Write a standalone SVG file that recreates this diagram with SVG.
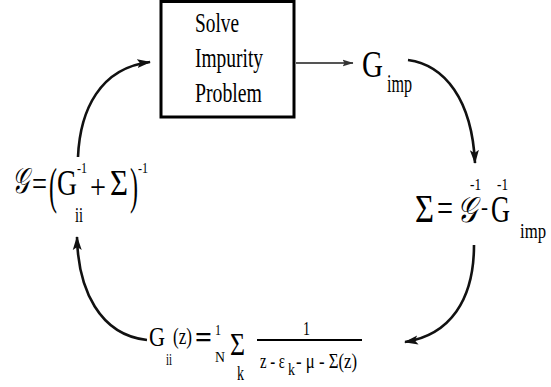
<svg xmlns="http://www.w3.org/2000/svg" width="551" height="387" viewBox="0 0 551 387">
<style>
text{font-family:"Liberation Serif","Times New Roman",serif;fill:#000}
.sc{font-style:italic}
.curve{fill:none;stroke:#111;stroke-width:2.6;marker-end:url(#ah)}
</style>
<defs>
<marker id="ah" viewBox="0 0 14 10" refX="13" refY="5" markerWidth="14" markerHeight="10" markerUnits="userSpaceOnUse" orient="auto">
<path d="M0,0.5 L14,5 L0,9.5 L3,5 Z" fill="#111"/>
</marker>
<marker id="ah2" viewBox="0 0 11 8" refX="10.5" refY="4" markerWidth="11" markerHeight="8" markerUnits="userSpaceOnUse" orient="auto">
<path d="M0,0.5 L11,4 L0,7.5 L2,4 Z" fill="#333"/>
</marker>
</defs>
<rect width="551" height="387" fill="#fff"/>
<g id="connectors">
<line x1="296" y1="63" x2="353" y2="63" stroke="#555" stroke-width="1.8" marker-end="url(#ah2)"/>
<path class="curve" d="M408,60 C445,65 472,100 475,163"/>
<path class="curve" d="M474,245 C474,300 450,335 405,342"/>
<path class="curve" d="M147,340 C100,335 78,290 77,237"/>
<path class="curve" d="M78,157 C80,110 100,68 150,62"/>
</g>
<g id="solver">
<rect x="161" y="1.5" width="133" height="115.5" fill="#fff" stroke="#000" stroke-width="3"/>
<text x="195" y="32" font-size="28" textLength="44" lengthAdjust="spacingAndGlyphs">Solve</text>
<text x="195" y="67" font-size="28" textLength="68" lengthAdjust="spacingAndGlyphs">Impurity</text>
<text x="195" y="102" font-size="28" textLength="67" lengthAdjust="spacingAndGlyphs">Problem</text>
</g>
<g id="gimp">
<text x="362" y="77" font-size="38" textLength="21" lengthAdjust="spacingAndGlyphs">G</text>
<text x="387" y="92" font-size="26" textLength="25" lengthAdjust="spacingAndGlyphs">imp</text>
</g>
<g id="sigma">
<text x="415" y="222" font-size="40" textLength="19" lengthAdjust="spacingAndGlyphs">Σ</text>
<text x="437" y="222" font-size="40" textLength="16" lengthAdjust="spacingAndGlyphs">=</text>
<text class="sc" x="457" y="222" font-size="36" textLength="20" lengthAdjust="spacingAndGlyphs">𝒢</text>
<text x="470" y="190" font-size="17" textLength="11" lengthAdjust="spacingAndGlyphs">-1</text>
<text x="481" y="215" font-size="24" textLength="7" lengthAdjust="spacingAndGlyphs">-</text>
<text x="491" y="222" font-size="38" textLength="19" lengthAdjust="spacingAndGlyphs">G</text>
<text x="497" y="190" font-size="17" textLength="11" lengthAdjust="spacingAndGlyphs">-1</text>
<text x="520" y="238" font-size="20" textLength="26" lengthAdjust="spacingAndGlyphs">imp</text>
</g>
<g id="gloc">
<text class="sc" x="12" y="193" font-size="36" textLength="17" lengthAdjust="spacingAndGlyphs">𝒢</text>
<text x="32" y="196" font-size="36" textLength="15" lengthAdjust="spacingAndGlyphs">=</text>
<text x="49" y="203" font-size="50" textLength="8" lengthAdjust="spacingAndGlyphs">(</text>
<text x="57" y="195" font-size="35" textLength="20" lengthAdjust="spacingAndGlyphs">G</text>
<text x="77" y="173" font-size="15" textLength="10" lengthAdjust="spacingAndGlyphs">-1</text>
<text x="75" y="222" font-size="20" textLength="8" lengthAdjust="spacingAndGlyphs">ii</text>
<text x="90" y="198" font-size="34" textLength="16" lengthAdjust="spacingAndGlyphs">+</text>
<text x="110" y="195" font-size="35" textLength="18" lengthAdjust="spacingAndGlyphs">Σ</text>
<text x="130" y="203" font-size="50" textLength="8" lengthAdjust="spacingAndGlyphs">)</text>
<text x="138" y="173" font-size="15" textLength="10" lengthAdjust="spacingAndGlyphs">-1</text>
</g>
<g id="gii">
<text x="149" y="346" font-size="28" textLength="16" lengthAdjust="spacingAndGlyphs">G</text>
<text x="166" y="365" font-size="16" textLength="6" lengthAdjust="spacingAndGlyphs">ii</text>
<text x="173" y="344" font-size="24" textLength="19" lengthAdjust="spacingAndGlyphs">(z)</text>
<text x="195" y="348" font-size="32" font-weight="bold" textLength="17" lengthAdjust="spacingAndGlyphs">=</text>
<text x="215" y="335" font-size="14" textLength="6" lengthAdjust="spacingAndGlyphs">1</text>
<text x="215" y="362" font-size="15" textLength="10" lengthAdjust="spacingAndGlyphs">N</text>
<text x="230" y="355" font-size="32" textLength="15" lengthAdjust="spacingAndGlyphs">Σ</text>
<text x="237" y="380" font-size="20" textLength="7" lengthAdjust="spacingAndGlyphs">k</text>
<text x="303" y="335" font-size="19" textLength="7" lengthAdjust="spacingAndGlyphs">1</text>
<line x1="257" y1="340" x2="362" y2="340" stroke="#000" stroke-width="2"/>
<text x="260" y="368" font-size="20" textLength="25" lengthAdjust="spacingAndGlyphs">z - ε</text>
<text x="288" y="375" font-size="16" textLength="7" lengthAdjust="spacingAndGlyphs">k</text>
<text x="296" y="368" font-size="20" textLength="61" lengthAdjust="spacingAndGlyphs">- μ - Σ(z)</text>
</g>
</svg>
